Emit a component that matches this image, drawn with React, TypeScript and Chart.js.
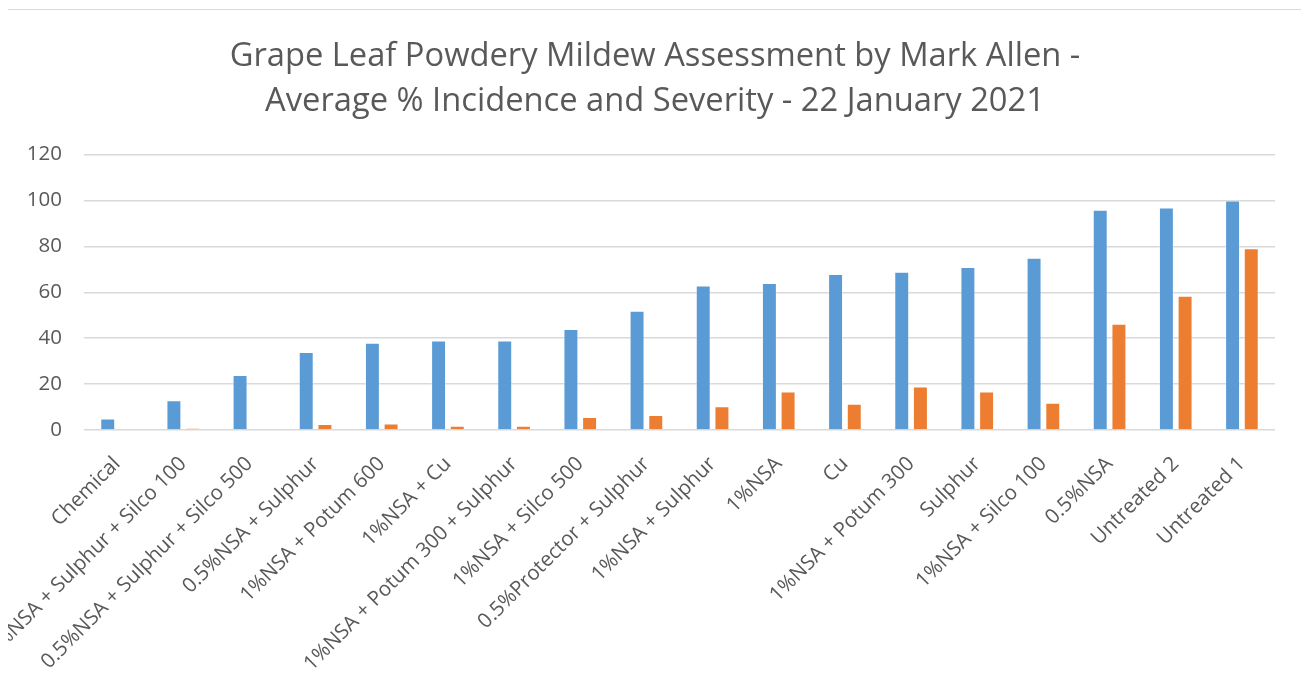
import React, { useEffect, useRef } from "react";
import { Chart, registerables } from "chart.js";

Chart.register(...registerables);

// Treatments, sorted by incidence
const treatments: string[] = [
  "Chemical",
  "1%NSA + Sulphur + Silco 100",
  "0.5%NSA + Sulphur + Silco 500",
  "0.5%NSA + Sulphur",
  "1%NSA + Potum 600",
  "1%NSA + Cu",
  "1%NSA + Potum 300 + Sulphur",
  "1%NSA + Silco 500",
  "0.5%Protector + Sulphur",
  "1%NSA + Sulphur",
  "1%NSA",
  "Cu",
  "1%NSA + Potum 300",
  "Sulphur",
  "1%NSA + Silco 100",
  "0.5%NSA",
  "Untreated 2",
  "Untreated 1",
];

// Average % incidence
const incidence: number[] = [5, 13, 24, 34, 38, 39, 39, 44, 52, 63, 64, 68, 69, 71, 75, 96, 97, 100];

// Average % severity
const severity: number[] = [0, 0.8, 0.3, 2.6, 2.8, 1.8, 1.8, 5.7, 6.5, 10.4, 16.8, 11.4, 19, 16.8, 11.9, 46.3, 58.5, 79.2];

const titleLines: string[] = [
  "Grape Leaf Powdery Mildew Assessment by Mark Allen -",
  "Average % Incidence and Severity - 22 January 2021",
];

const yMax = 120;
const yStep = 20;

const FONT = "'Open Sans', 'Liberation Sans', sans-serif";
const TEXT = "#595959";
const GRID = "#d9d9d9";

export default function App() {
  const canvasRef = useRef<HTMLCanvasElement | null>(null);

  useEffect(() => {
    if (!canvasRef.current) return;
    const chart = new Chart(canvasRef.current, {
      type: "bar",
      data: {
        labels: treatments,
        datasets: [
          {
            label: "Incidence",
            data: incidence,
            backgroundColor: "#5b9bd5",
            borderColor: "rgba(255,255,255,0.35)",
            borderWidth: 1,
            categoryPercentage: 0.565,
            barPercentage: 0.8,
          },
          {
            label: "Severity",
            data: severity,
            backgroundColor: "#ed7d31",
            borderColor: "rgba(255,255,255,0.35)",
            borderWidth: 1,
            categoryPercentage: 0.565,
            barPercentage: 0.8,
          },
        ],
      },
      options: {
        responsive: false,
        animation: false,
        layout: { padding: 0 },
        plugins: {
          legend: { display: false },
          tooltip: { enabled: false },
          title: {
            display: true,
            text: titleLines,
            color: TEXT,
            font: { family: FONT, size: 32.7, weight: "normal", lineHeight: 1.37 },
            padding: { top: 24, bottom: 31 },
          },
        },
        scales: {
          x: {
            grid: { display: false, drawTicks: false },
            border: { display: false },
            ticks: {
              color: TEXT,
              font: { family: FONT, size: 20.5 },
              minRotation: 45,
              maxRotation: 45,
              autoSkip: false,
              padding: 22,
            },
            afterFit: (scale: any) => {
              scale.height = 270;
            },
          },
          y: {
            min: 0,
            max: yMax,
            grid: { color: GRID, lineWidth: 1.5, drawTicks: false },
            border: { display: false },
            ticks: {
              stepSize: yStep,
              color: TEXT,
              font: { family: FONT, size: 20.5 },
              padding: 22,
            },
            afterFit: (scale: any) => {
              scale.width = 76;
            },
          },
          // empty right-hand margin beside the plot area
          gap: {
            position: "right",
            min: 0,
            max: yMax,
            grid: { display: false, drawTicks: false },
            border: { display: false },
            ticks: { display: false },
            afterFit: (scale: any) => {
              scale.width = 27;
            },
          },
        },
      },
    });
    return () => chart.destroy();
  }, []);

  return (
    <div
      style={{
        position: "relative",
        width: 1294,
        height: 690,
        border: "1px solid #d9d9d9",
        marginLeft: -1,
        marginTop: 1,
        background: "#ffffff",
        overflow: "hidden",
      }}
    >
      <canvas ref={canvasRef} width={1294} height={690} style={{ display: "block" }} />
    </div>
  );
}
